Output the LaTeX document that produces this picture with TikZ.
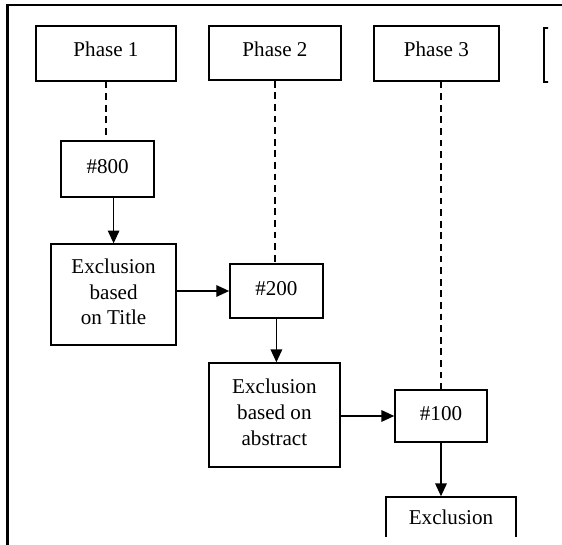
\documentclass[tikz,border=0pt]{standalone}
\usepackage{fontspec}
\setmainfont{Liberation Serif}
\usetikzlibrary{arrows.meta}

\begin{document}
\begin{tikzpicture}[
    box/.style={draw,line width=1.1pt,inner sep=0pt,align=center,text depth=0.4em},
    phase/.style={box,text depth=0.6em},
    arr/.style={-{Triangle[length=0.32cm,width=0.29cm]},line width=0.9pt},
    link/.style={dashed,dash pattern=on 0.17cm off 0.12cm,line width=1.2pt},
    font=\fontsize{15}{18.2}\selectfont
]
    \useasboundingbox (0,0) rectangle (14.05,13.625);

    % Frame (cut off at right and bottom)
    \draw[line width=1.6pt] (0.19,0) -- (0.19,13.5) -- (14.05,13.5);

    % Phases
    \node[phase,minimum width=3.5cm,minimum height=1.375cm] (p1) at (2.65,12.29) {Phase 1};
    \node[phase,minimum width=3.3cm,minimum height=1.35cm] (p2) at (6.875,12.3) {Phase 2};
    \node[phase,minimum width=3.125cm,minimum height=1.375cm] (p3) at (10.91,12.29) {Phase 3};
    \begin{scope}
        \clip (13.5,11) rectangle (13.7,13.4);
        \node[phase,minimum width=3cm,minimum height=1.35cm] (p4) at (15.1,12.25) {};
    \end{scope}

    % Counts and exclusions
    \node[box,minimum width=2.325cm,minimum height=1.4cm] (n800) at (2.69,9.4) {\#800};
    \node[box,minimum width=3.125cm,minimum height=2.525cm] (title) at (2.84,6.26) {Exclusion\\based\\on Title};
    \node[box,minimum width=2.325cm,minimum height=1.35cm] (n200) at (6.91,6.35) {\#200};
    \node[box,minimum width=3.275cm,minimum height=2.6cm] (abstract) at (6.86,3.25) {Exclusion\\based on\\abstract};
    \node[box,minimum width=2.3cm,minimum height=1.3cm] (n100) at (11.025,3.225) {\#100};
    \begin{scope}
        \clip (9,0.2) rectangle (14,2);
        \node[box,minimum width=3.25cm,minimum height=1.15cm] (excl) at (11.275,0.625) {Exclusion};
    \end{scope}

    % Dashed links to phases
    \draw[link] (p1.south) -- (p1.south |- n800.north);
    \draw[link] (p2.south) -- (p2.south |- n200.north);
    \draw[link] (n100.north |- p3.south) -- (n100.north);

    % Flow
    \draw[arr] (n800.south -| title.north) -- (title.north);
    \draw[arr] (title.east |- n200) -- (n200.west);
    \draw[arr] (n200.south) -- (n200.south |- abstract.north);
    \draw[arr] (abstract.east |- n100) -- (n100.west);
    \draw[arr] (n100.south) -- (n100.south |- excl.north);
\end{tikzpicture}
\end{document}
